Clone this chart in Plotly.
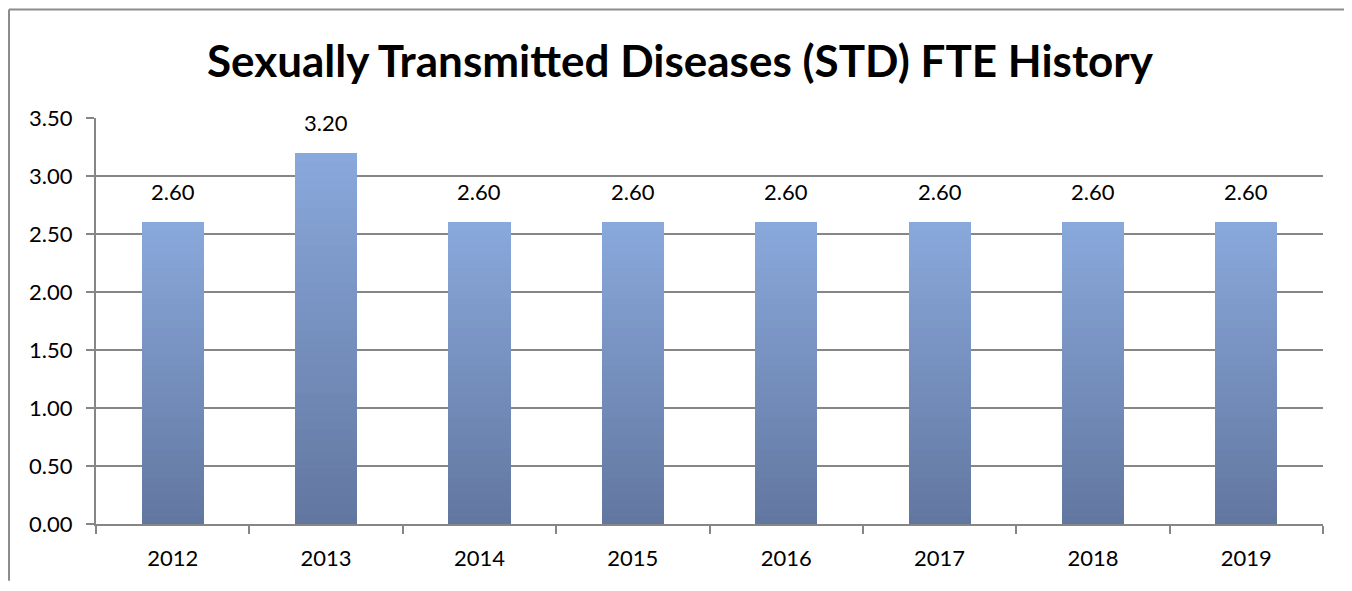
import plotly.graph_objects as go

years = ["2012", "2013", "2014", "2015", "2016", "2017", "2018", "2019"]
fte = [2.60, 3.20, 2.60, 2.60, 2.60, 2.60, 2.60, 2.60]
y_ticks = [0, 0.5, 1.0, 1.5, 2.0, 2.5, 3.0, 3.5]
title_text = "Sexually Transmitted Diseases (STD) FTE History"

FONT = "Lato"
top_rgb = (137, 168, 219)
bot_rgb = (98, 119, 160)
N = 40

fig = go.Figure()
for i in range(N):
    t = i / (N - 1)
    c = tuple(round(b + (a - b) * t) for a, b in zip(top_rgb, bot_rgb))
    fig.add_trace(go.Bar(
        x=years, y=[v / N for v in fte],
        marker=dict(color=f"rgb{c}", line=dict(width=0)),
        showlegend=False, hoverinfo="skip" if i < N - 1 else None,
        customdata=fte,
        hovertemplate="%{x}: %{customdata:.2f}<extra></extra>",
    ))

for i, v in enumerate(fte):
    fig.add_annotation(x=i, y=v, text=f"{v:.2f}", showarrow=False,
                       yanchor="bottom", yshift=15,
                       font=dict(family=FONT, size=22, color="#000"))

W, H = 1336, 575
L, R, T, B = 88, 21, 110, 57
plot_w = W - L - R
plot_h = H - T - B

bx0 = (1 - L) / plot_w
bx1 = (W - L) / plot_w
by0 = -B / plot_h
by1 = (plot_h + T - 1) / plot_h
border = dict(color="#8c8c8c", width=2)

fig.update_layout(
    barmode="stack", bargap=0.595,
    width=W, height=H,
    margin=dict(l=L, r=R, t=T, b=B),
    paper_bgcolor="white", plot_bgcolor="white",
    title=dict(text=f"<b>{title_text}</b>", x=672 / W, xanchor="center",
               y=1 - 54 / H, yanchor="middle",
               font=dict(family=FONT, size=44, color="#000")),
    font=dict(family=FONT, size=22, color="#000"),
    xaxis=dict(type="category", categoryorder="array", categoryarray=years,
               showline=True, linecolor="#868686", linewidth=2,
               ticks="outside", tickson="boundaries", ticklen=8, tickcolor="#868686",
               tickwidth=2, showgrid=False, tickfont=dict(size=22), tickangle=0,
               ticklabelstandoff=14),
    yaxis=dict(range=[0, 3.5], tickvals=y_ticks, tickformat=".2f",
               showline=True, linecolor="#868686", linewidth=2,
               ticks="outside", ticklen=8, tickcolor="#868686", tickwidth=2,
               showgrid=True, gridcolor="#868686", gridwidth=2,
               zeroline=False, tickfont=dict(size=22), ticklabelstandoff=9),
    shapes=[
        dict(type="line", xref="paper", yref="paper", x0=bx0, x1=bx0,
             y0=by0, y1=by1, line=border, layer="below"),
        dict(type="line", xref="paper", yref="paper", x0=bx0, x1=bx1,
             y0=by1, y1=by1, line=border, layer="below"),
    ],
)

fig.write_html("out.html")
